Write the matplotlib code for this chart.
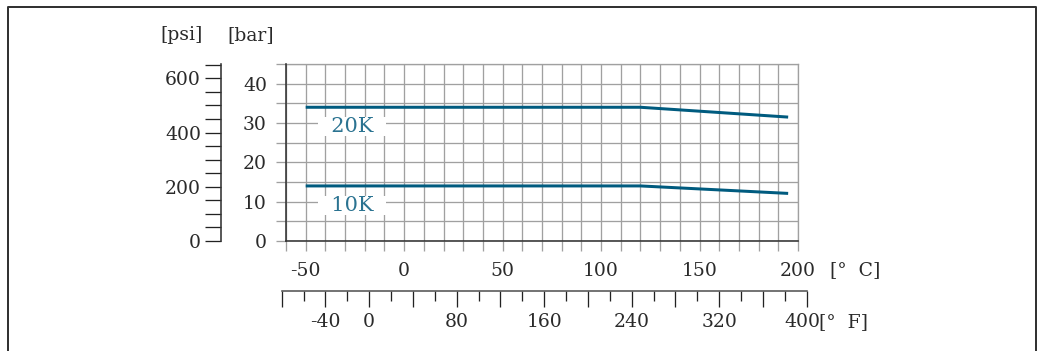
import matplotlib
matplotlib.use("Agg")
import matplotlib.pyplot as plt
from matplotlib.lines import Line2D
from matplotlib.transforms import ScaledTranslation
import numpy as np

plt.rcParams['font.family'] = ['DejaVu Serif']
plt.rcParams['axes.unicode_minus'] = False

# ---- data ----
temp_c = [-50, 120, 195]
p_20k = [34, 34, 31.5]
p_10k = [14, 14, 12.1]
series_labels = ["20K", "10K"]
label_pos_c = [-26.5, -26.5]
label_pos_bar = [29.0, 8.9]

c_ticks = list(range(-60, 201, 10))
c_labels = ["-50", "0", "50", "100", "150", "200"]
bar_ticks = list(range(0, 46, 5))
bar_labels = ["0", "10", "20", "30", "40"]
psi_ticks = list(range(0, 651, 50))
psi_labels = ["0", "200", "400", "600"]
f_major = list(range(-80, 401, 40))
f_minor = list(range(-60, 401, 40))
f_labels = ["-40", "0", "80", "160", "240", "320", "400"]

W, H = 1042, 351
fig = plt.figure(figsize=(W / 100, H / 100), dpi=100)
def fx(px): return px / W
def fy(py): return 1 - py / H
PT = 0.72  # points per pixel

LINE = '#005b7f'
TXT = '#2b7391'
GRID = '#a0a0a0'
DARK = '#333333'
TCOL = '#2a2a2a'
FS = 13.5

x0, x1, yb, yt = 286, 798, 241, 64
ax = fig.add_axes([fx(x0), fy(yb), fx(x1) - fx(x0), fy(yt) - fy(yb)])
ax.set_xlim(-60, 200)
ax.set_ylim(0, 45)
ax.set_xticks(c_ticks)
ax.set_xticklabels([str(t) if str(t) in c_labels else "" for t in c_ticks])
ax.set_yticks(bar_ticks)
ax.set_yticklabels([str(t) if str(t) in bar_labels else "" for t in bar_ticks])
ax.grid(True, color=GRID, lw=1.3 * PT)
ax.set_axisbelow(True)
ax.tick_params(axis='both', direction='out', length=10 * PT, width=1.3 * PT,
               color=GRID, labelsize=FS, labelcolor=TCOL)
ax.tick_params(axis='x', pad=11 * PT)
ax.tick_params(axis='y', pad=9 * PT)
for s in ['top', 'right']:
    ax.spines[s].set_color(GRID)
    ax.spines[s].set_linewidth(1.3 * PT)
for s in ['left', 'bottom']:
    ax.spines[s].set_color(DARK)
    ax.spines[s].set_linewidth(1.6 * PT)
    ax.spines[s].set_zorder(3)

for vals in (p_20k, p_10k):
    ax.plot(temp_c, vals, color=LINE, lw=3 * PT, solid_capstyle='butt', zorder=4)
for lab, xc, yv in zip(series_labels, label_pos_c, label_pos_bar):
    ax.text(xc, yv, "  " + lab + "  ", ha='center', va='center', fontsize=15,
            color=TXT, zorder=5,
            bbox=dict(boxstyle='square,pad=0', fc='white', ec='none'))

# psi axis
bar2psi = 14.5038
sec = ax.secondary_yaxis((221 - x0) / (x1 - x0),
                         functions=(lambda b: b * bar2psi, lambda p: p / bar2psi))
sec.set_yticks(psi_ticks)
sec.set_yticklabels([str(t) if str(t) in psi_labels else "" for t in psi_ticks])
sec.tick_params(direction='out', length=16 * PT, width=1.3 * PT, color='#222222',
                labelsize=FS, pad=4 * PT, labelcolor=TCOL)
sec.spines['left'].set_color(DARK)
sec.spines['left'].set_linewidth(1.6 * PT)

# Fahrenheit axis
def c_to_px(c): return x0 + (c + 60) * (x1 - x0) / 260.0
def f_to_c(f): return (f - 32) * 5.0 / 9.0
fl, fr = c_to_px(f_to_c(-80)), c_to_px(f_to_c(400))
fyp = 290.7
fax = fig.add_axes([fx(fl), fy(fyp), fx(fr) - fx(fl), 0.0001])
fax.set_xlim(-80, 400)
fax.set_facecolor('none')
for s in ['top', 'left', 'right']:
    fax.spines[s].set_visible(False)
fax.spines['bottom'].set_color('#555555')
fax.spines['bottom'].set_linewidth(1.6 * PT)
fax.set_yticks([])
fax.set_xticks(f_major)
fax.set_xticklabels([str(t) if str(t) in f_labels else "" for t in f_major])
fax.set_xticks(f_minor, minor=True)
fax.tick_params(axis='x', which='major', direction='out', length=16 * PT,
                width=1.3 * PT, color='#222222', labelsize=FS, pad=6 * PT,
                labelcolor=TCOL)
fax.tick_params(axis='x', which='minor', direction='out', length=10 * PT,
                width=1.3 * PT, color='#222222')
# nudge last label left as in the reference
last = fax.xaxis.get_major_ticks()[-1].label1
last.set_transform(last.get_transform() + ScaledTranslation(-4 / 100, 0, fig.dpi_scale_trans))

fig.text(fx(830), fy(270), "[°  C]", ha='left', va='center', fontsize=FS, color=TCOL)
fig.text(fx(819), fy(322), "[°  F]", ha='left', va='center', fontsize=FS, color=TCOL)
fig.text(fx(182), fy(35), "[psi]", ha='center', va='center', fontsize=FS, color=TCOL)
fig.text(fx(251), fy(35), "[bar]", ha='center', va='center', fontsize=FS, color=TCOL)

# outer frame (open at bottom)
fig.add_artist(Line2D([fx(8), fx(8), fx(1036), fx(1036)], [0, fy(6.5), fy(6.5), 0],
                      transform=fig.transFigure, color=DARK, lw=2 * PT))

fig.savefig("out.png", dpi=100)
